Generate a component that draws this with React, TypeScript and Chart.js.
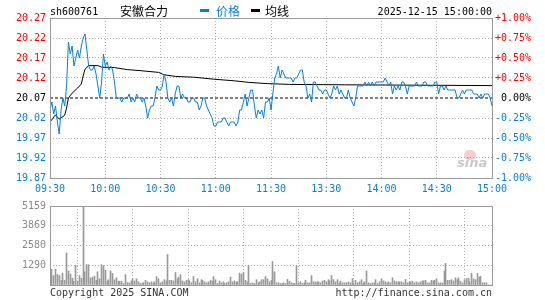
import React, { useEffect, useRef } from "react";
import { Chart, registerables } from "chart.js";

Chart.register(...registerables);

// ---------- data ----------
const SYMBOL = "sh600761";
const NAME = "安徽合力";
const DATETIME = "2025-12-15 15:00:00";
const PREV_CLOSE = 20.07;

const X_TICKS = [0, 30, 60, 90, 120, 150, 180, 210, 240];
const X_LABELS = ["09:30", "10:00", "10:30", "11:00", "11:30", "13:30", "14:00", "14:30", "15:00"];

const PRICE_TICKS = [20.27, 20.22, 20.17, 20.12, 20.07, 20.02, 19.97, 19.92, 19.87];
const VOLUME_TICKS = [0, 1290, 2580, 3869, 5159];

const PRICE = [
  20.04, 20.06, 20.03, 20.05, 20.01, 19.98, 20.04, 20.07, 20.05, 20.10,
  20.21, 20.18, 20.20, 20.15, 20.17, 20.19, 20.17, 20.20, 20.22, 20.23,
  20.19, 20.15, 20.14, 20.14, 20.15, 20.13, 20.10, 20.07, 20.11, 20.18,
  20.15, 20.16, 20.14, 20.15, 20.14, 20.11, 20.07, 20.07, 20.07, 20.06,
  20.07, 20.07, 20.07, 20.08, 20.06, 20.07, 20.06, 20.08, 20.07, 20.07,
  20.06, 20.07, 20.05, 20.02, 20.04, 20.05, 20.05, 20.07, 20.10, 20.09,
  20.09, 20.10, 20.13, 20.11, 20.07, 20.06, 20.07, 20.05, 20.08, 20.10,
  20.10, 20.07, 20.08, 20.07, 20.07, 20.06, 20.06, 20.07, 20.07, 20.06,
  20.06, 20.04, 20.05, 20.07, 20.07, 20.05, 20.04, 20.03, 20.02, 20.00,
  20.00, 20.01, 20.01, 20.01, 20.02, 20.02, 20.01, 20.00, 20.01, 20.01,
  20.01, 20.00, 20.01, 20.04, 20.04, 20.06, 20.08, 20.05, 20.07, 20.09,
  20.09, 20.05, 20.02, 20.04, 20.03, 20.04, 20.02, 20.06, 20.06, 20.07,
  20.04, 20.08, 20.12, 20.13, 20.15, 20.12, 20.14, 20.13, 20.12, 20.12,
  20.12, 20.12, 20.11, 20.12, 20.12, 20.13, 20.14, 20.14, 20.11, 20.10,
  20.07, 20.08, 20.06, 20.11, 20.11, 20.10, 20.09, 20.09, 20.08, 20.09,
  20.09, 20.08, 20.07, 20.08, 20.10, 20.09, 20.10, 20.08, 20.09, 20.08,
  20.07, 20.07, 20.09, 20.07, 20.06, 20.05, 20.07, 20.10, 20.10, 20.10,
  20.10, 20.11, 20.10, 20.11, 20.10, 20.11, 20.10, 20.11, 20.11, 20.11,
  20.11, 20.11, 20.12, 20.11, 20.10, 20.11, 20.08, 20.10, 20.09, 20.10,
  20.09, 20.11, 20.11, 20.10, 20.08, 20.10, 20.10, 20.10, 20.10, 20.11,
  20.10, 20.10, 20.10, 20.11, 20.11, 20.10, 20.10, 20.10, 20.10, 20.11,
  20.11, 20.08, 20.10, 20.10, 20.09, 20.10, 20.09, 20.09, 20.09, 20.09,
  20.09, 20.07, 20.07, 20.08, 20.09, 20.08, 20.09, 20.09, 20.09, 20.09,
  20.08, 20.08, 20.08, 20.07, 20.08, 20.07, 20.08, 20.08, 20.08, 20.07,
  20.05,
];

const AVG_MINUTE = [0, 3, 5, 8, 9, 10, 12, 15, 17, 18, 19, 21, 26, 28, 35, 42, 50, 59, 62, 68, 78, 89, 100, 108, 118, 130, 160, 200, 240];
const AVG_PRICE = [
  20.010, 20.028, 20.017, 20.027, 20.045, 20.070, 20.082, 20.095, 20.105, 20.125,
  20.142, 20.151, 20.151, 20.147, 20.146, 20.141, 20.138, 20.134, 20.128, 20.124,
  20.122, 20.117, 20.113, 20.109, 20.106, 20.104, 20.103, 20.102, 20.101,
];

const VOLUME = [
  102, 1024, 614, 1024, 676, 614, 307, 778, 307, 2088,
  921, 716, 450, 246, 1290, 266, 614, 450, 5159, 860,
  1330, 1330, 471, 512, 573, 307, 860, 409, 1330, 1269,
  962, 266, 348, 921, 757, 348, 471, 246, 246, 246,
  102, 676, 164, 143, 266, 409, 266, 409, 205, 102,
  143, 143, 307, 205, 143, 205, 143, 205, 553, 409,
  143, 205, 348, 266, 1986, 307, 307, 266, 819, 409,
  512, 676, 266, 205, 307, 348, 266, 143, 553, 205,
  409, 143, 348, 307, 205, 143, 205, 307, 246, 553,
  348, 102, 266, 143, 205, 102, 143, 205, 512, 205,
  266, 205, 205, 778, 716, 819, 307, 205, 1290, 102,
  143, 102, 348, 143, 205, 348, 348, 553, 409, 205,
  307, 1535, 860, 143, 143, 102, 102, 143, 102, 368,
  246, 143, 102, 102, 1290, 143, 205, 102, 143, 307,
  143, 143, 614, 205, 205, 205, 205, 143, 266, 307,
  205, 348, 266, 614, 348, 205, 348, 143, 246, 143,
  143, 143, 205, 143, 409, 102, 307, 143, 205, 348,
  143, 205, 921, 143, 102, 143, 143, 348, 102, 205,
  409, 266, 205, 143, 205, 143, 471, 266, 205, 205,
  205, 205, 143, 368, 143, 205, 205, 246, 143, 205,
  143, 205, 266, 266, 307, 143, 143, 307, 266, 307,
  409, 143, 143, 143, 921, 1412, 307, 307, 348, 266,
  471, 348, 471, 246, 143, 348, 409, 450, 205, 757,
  409, 348, 757, 512, 573, 143, 143, 143, 0, 0,
  0,
];

// ---------- styles ----------
const BLUE = "#0b7fd0";
const RED = "#ff0000";
const GRID = "#b4b4b4";
const FRAME = "#999999";
const MONO = "'DejaVu Sans Mono', monospace";
const CJK = "'Noto Sans CJK SC', sans-serif";

const framePlugin = {
  id: "frame",
  afterDraw(chart: any) {
    const a = chart.chartArea;
    const ctx = chart.ctx;
    ctx.save();
    ctx.strokeStyle = FRAME;
    ctx.lineWidth = 1;
    ctx.setLineDash([]);
    const l = Math.round(a.left), t = Math.round(a.top), r = Math.round(a.right), b = Math.round(a.bottom);
    ctx.strokeRect(l + 0.5, t + 0.5, r - l, b - t);
    ctx.restore();
  },
};

// snap 1px volume bars to whole pixels so they stay crisp
const snapBarsPlugin = {
  id: "snapBars",
  afterDatasetsUpdate(chart: any) {
    chart.getSortedVisibleDatasetMetas().forEach((meta: any) => {
      meta.data.forEach((el: any) => {
        el.x = Math.floor(el.x) + 0.5;
      });
    });
  },
};

const priceColor = (i: number) => (i < 4 ? RED : i === 4 ? "#000" : BLUE);
const pctLabel = (v: number) => {
  const p = ((v - PREV_CLOSE) / PREV_CLOSE) * 100;
  if (Math.abs(p) < 0.001) return " 0.00%";
  return (p > 0 ? "+" : "") + p.toFixed(2) + "%";
};

export default function App() {
  const priceRef = useRef<HTMLCanvasElement>(null);
  const volRef = useRef<HTMLCanvasElement>(null);

  useEffect(() => {
    document.body.style.margin = "0";
    const tickFont = { family: "DejaVu Sans Mono", size: 10 };

    const priceChart = new Chart(priceRef.current!, {
      type: "line",
      data: {
        datasets: [
          {
            label: "价格",
            data: PRICE.map((p, i) => ({ x: i, y: p })),
            borderColor: BLUE,
            borderWidth: 1,
            pointRadius: 0,
            tension: 0,
          },
          {
            label: "均线",
            data: AVG_MINUTE.map((m, k) => ({ x: m, y: AVG_PRICE[k] })),
            borderColor: "#000",
            borderWidth: 1,
            pointRadius: 0,
            tension: 0,
          },
          {
            label: "昨收",
            data: [
              { x: 0, y: PREV_CLOSE },
              { x: 240, y: PREV_CLOSE },
            ],
            borderColor: "#000",
            borderWidth: 1,
            borderDash: [3, 2],
            pointRadius: 0,
          },
        ],
      },
      options: {
        animation: false,
        responsive: false,
        layout: { padding: { top: 18, left: 0, right: 0, bottom: 0 } },
        plugins: { legend: { display: false }, tooltip: { enabled: false } },
        scales: {
          x: {
            type: "linear",
            min: 0,
            max: 240,
            afterBuildTicks: (s: any) => {
              s.ticks = X_TICKS.map((v) => ({ value: v }));
            },
            afterFit: (s: any) => {
              s.height = 18;
            },
            ticks: {
              autoSkip: false,
              maxRotation: 0,
              color: BLUE,
              font: tickFont,
              padding: 5,
              callback: (_v: any, idx: number) => X_LABELS[idx],
            },
            grid: { color: GRID, drawTicks: false, borderDash: [1, 2] } as any,
            border: { display: false, dash: [1, 2] },
          },
          y: {
            position: "left",
            min: 19.87,
            max: 20.27,
            afterBuildTicks: (s: any) => {
              s.ticks = PRICE_TICKS.map((v) => ({ value: v }));
            },
            afterFit: (s: any) => {
              s.width = 50;
            },
            ticks: {
              font: tickFont,
              padding: 4,
              color: (c: any) => priceColor(c.index),
              callback: (v: any) => Number(v).toFixed(2),
            },
            grid: {
              drawTicks: false,
              color: (c: any) => (c.index === 4 ? "rgba(0,0,0,0)" : GRID),
              borderDash: [1, 2],
            } as any,
            border: { display: false, dash: [1, 2] },
          },
          yR: {
            position: "right",
            min: 19.87,
            max: 20.27,
            afterBuildTicks: (s: any) => {
              s.ticks = PRICE_TICKS.map((v) => ({ value: v }));
            },
            afterFit: (s: any) => {
              s.width = 53;
            },
            ticks: {
              font: tickFont,
              padding: 3,
              color: (c: any) => priceColor(c.index),
              callback: (v: any) => pctLabel(Number(v)),
            },
            grid: { display: false, drawTicks: false },
            border: { display: false },
          },
        },
      } as any,
      plugins: [framePlugin],
    });

    const volChart = new Chart(volRef.current!, {
      type: "bar",
      data: {
        datasets: [
          {
            label: "成交量",
            data: VOLUME.map((v, i) => ({ x: i, y: v })) as any,
            backgroundColor: "#999999",
            borderWidth: 0,
            barThickness: 1,
          },
        ],
      },
      options: {
        animation: false,
        responsive: false,
        layout: { padding: { top: 5, right: 53, left: 0, bottom: 0 } },
        plugins: { legend: { display: false }, tooltip: { enabled: false } },
        scales: {
          x: {
            type: "linear",
            min: 0,
            max: 240,
            offset: false,
            afterBuildTicks: (s: any) => {
              s.ticks = X_TICKS.map((v) => ({ value: v }));
            },
            afterFit: (s: any) => {
              s.height = 15;
            },
            ticks: { display: false },
            grid: { color: GRID, drawTicks: false, borderDash: [1, 2] } as any,
            border: { display: false, dash: [1, 2] },
          },
          y: {
            position: "left",
            min: 0,
            max: 5159,
            afterBuildTicks: (s: any) => {
              s.ticks = VOLUME_TICKS.map((v) => ({ value: v }));
            },
            afterFit: (s: any) => {
              s.width = 50;
            },
            ticks: {
              font: tickFont,
              padding: 4,
              color: "#8a8a8a",
              callback: (v: any) => (Number(v) === 0 ? "" : String(v)),
            },
            grid: { color: GRID, drawTicks: false, borderDash: [1, 2] } as any,
            border: { display: false, dash: [1, 2] },
          },
        },
      } as any,
      plugins: [snapBarsPlugin, framePlugin],
    });

    return () => {
      priceChart.destroy();
      volChart.destroy();
    };
  }, []);

  const mono: React.CSSProperties = {
    position: "absolute",
    fontFamily: MONO,
    fontSize: 10,
    lineHeight: "12px",
    whiteSpace: "nowrap",
  };
  const cjk: React.CSSProperties = {
    position: "absolute",
    fontFamily: CJK,
    fontSize: 12,
    lineHeight: "12px",
    whiteSpace: "nowrap",
  };

  return (
    <div style={{ position: "absolute", left: 0, top: 0, width: 545, height: 300, background: "#fff", overflow: "hidden" }}>
      <canvas ref={priceRef} width={545} height={196} style={{ position: "absolute", left: 0, top: 0 }} />
      <canvas ref={volRef} width={545} height={104} style={{ position: "absolute", left: 0, top: 196 }} />

      <div style={{ ...mono, left: 50, top: 6, color: "#000" }}>{SYMBOL}</div>
      <div style={{ ...cjk, left: 120, top: 5, color: "#000" }}>{NAME}</div>
      <div style={{ position: "absolute", left: 200, top: 9, width: 9, height: 3, background: BLUE }} />
      <div style={{ ...cjk, left: 216, top: 5, color: BLUE }}>价格</div>
      <div style={{ position: "absolute", left: 251, top: 9, width: 9, height: 3, background: "#000" }} />
      <div style={{ ...cjk, left: 265, top: 5, color: "#000" }}>均线</div>
      <div style={{ ...mono, right: 545 - 492, top: 6, color: "#000" }}>{DATETIME}</div>

      <div style={{ position: "absolute", left: 464, top: 150, width: 12, height: 10, borderRadius: 6, background: "rgba(230,90,90,0.3)" }} />
      <div
        style={{
          position: "absolute",
          left: 457,
          top: 155,
          fontFamily: "'DejaVu Sans', sans-serif",
          fontStyle: "italic",
          fontWeight: "bold",
          fontSize: 13,
          lineHeight: "16px",
          color: "rgba(150,150,150,0.5)",
        }}
      >
        sina
      </div>

      <div style={{ ...mono, left: 50, top: 287, color: "#333" }}>Copyright 2025 SINA.COM</div>
      <div style={{ ...mono, right: 545 - 492, top: 287, color: "#333" }}>http://finance.sina.com.cn</div>
    </div>
  );
}
